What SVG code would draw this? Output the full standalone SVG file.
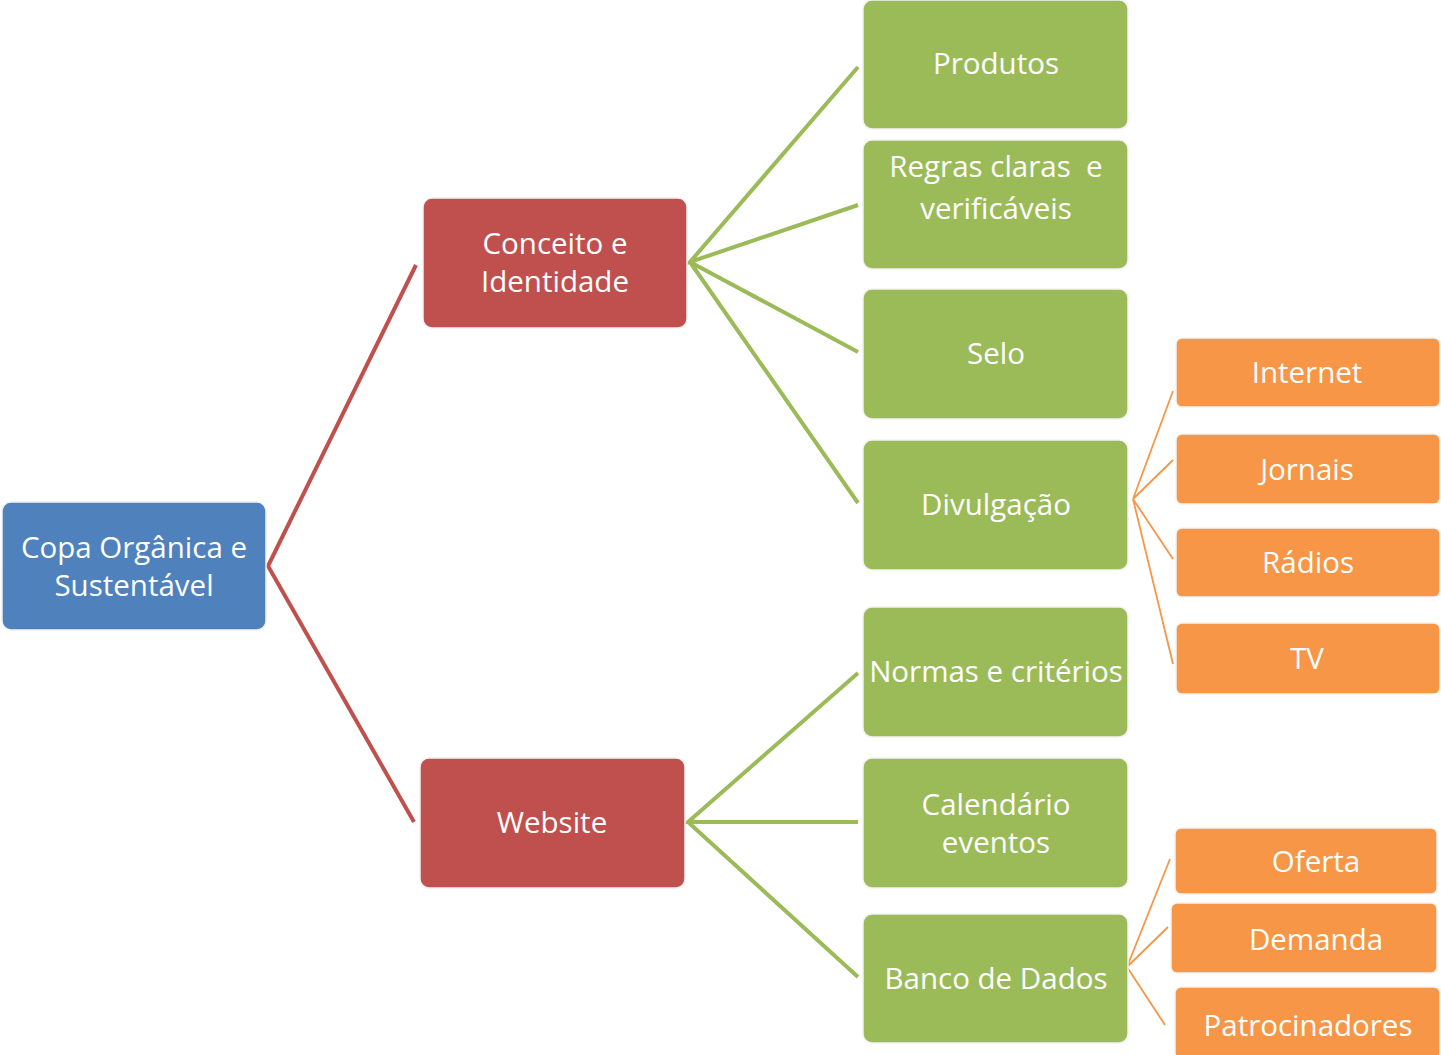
<svg xmlns="http://www.w3.org/2000/svg" width="1441" height="1055" viewBox="0 0 1441 1055">
<style>
text{font-family:"Open Sans","Noto Sans","Liberation Sans",sans-serif;font-size:29.5px;fill:#fff;text-anchor:middle;dominant-baseline:central}
.blue{fill:#4F81BD}.red{fill:#C0504D}.green{fill:#9BBB59}.orange{fill:#F79646}
.box{stroke:#f2f2f2;stroke-width:1.5}
.c1{stroke:#C0504D;stroke-width:4;fill:none}
.c2{stroke:#9BBB59;stroke-width:4;fill:none}
.c3{stroke:#F79646;stroke-width:1.8;fill:none}
</style>
<rect width="1441" height="1055" fill="#fff"/>
<g id="connectors">
<path class="c1" d="M416 265L268 566L414 822"/>
<path class="c2" d="M858 67L690 262L858 205M690 262L858 352M690 262L858 503"/>
<path class="c2" d="M858 673L688 822L858 822M688 822L858 977"/>
<path class="c3" d="M1173 391L1133 499L1173 460M1133 499L1173 559M1133 499L1173 664"/>
<path class="c3" d="M1170 859L1127 967L1168 927M1127 967L1165 1025"/>
</g>
<g id="root"><rect class="box blue" x="2" y="502" width="264" height="128" rx="9"/><text x="134" y="546">Copa Orgânica e</text><text x="134" y="584">Sustentável</text></g>
<g id="conceito"><rect class="box red" x="423" y="198" width="264" height="130" rx="9"/><text x="555" y="242">Conceito e</text><text x="555" y="280">Identidade</text></g>
<g id="website"><rect class="box red" x="420" y="758" width="265" height="130" rx="9"/><text x="552" y="821">Website</text></g>
<g id="produtos"><rect class="box green" x="863" y="0" width="265" height="129" rx="9"/><text x="996" y="62">Produtos</text></g>
<g id="regras"><rect class="box green" x="863" y="140" width="265" height="129" rx="9"/><text x="996" y="165">Regras claras&#160; e</text><text x="996" y="207">verificáveis</text></g>
<g id="selo"><rect class="box green" x="863" y="289" width="265" height="130" rx="9"/><text x="996" y="352">Selo</text></g>
<g id="divulgacao"><rect class="box green" x="863" y="440" width="265" height="130" rx="9"/><text x="996" y="503">Divulgação</text></g>
<g id="normas"><rect class="box green" x="863" y="607" width="265" height="130" rx="9"/><text x="996" y="670">Normas e critérios</text></g>
<g id="calendario"><rect class="box green" x="863" y="758" width="265" height="130" rx="9"/><text x="996" y="803">Calendário</text><text x="996" y="841">eventos</text></g>
<g id="banco"><rect class="box green" x="863" y="914" width="265" height="129" rx="9"/><text x="996" y="977">Banco de Dados</text></g>
<g id="internet"><rect class="box orange" x="1176" y="338" width="264" height="69" rx="6"/><text x="1307" y="371">Internet</text></g>
<g id="jornais"><rect class="box orange" x="1176" y="434" width="264" height="70" rx="6"/><text x="1307" y="468">Jornais</text></g>
<g id="radios"><rect class="box orange" x="1176" y="528" width="264" height="69" rx="6"/><text x="1308" y="561">Rádios</text></g>
<g id="tv"><rect class="box orange" x="1176" y="623" width="264" height="71" rx="6"/><text x="1307" y="657">TV</text></g>
<g id="oferta"><rect class="box orange" x="1175" y="828" width="262" height="66" rx="6"/><text x="1316" y="860">Oferta</text></g>
<g id="demanda"><rect class="box orange" x="1171" y="903" width="266" height="70" rx="6"/><text x="1316" y="938">Demanda</text></g>
<g id="patrocinadores"><rect class="box orange" x="1175" y="987" width="265" height="72" rx="6"/><text x="1308" y="1024">Patrocinadores</text></g>
</svg>
